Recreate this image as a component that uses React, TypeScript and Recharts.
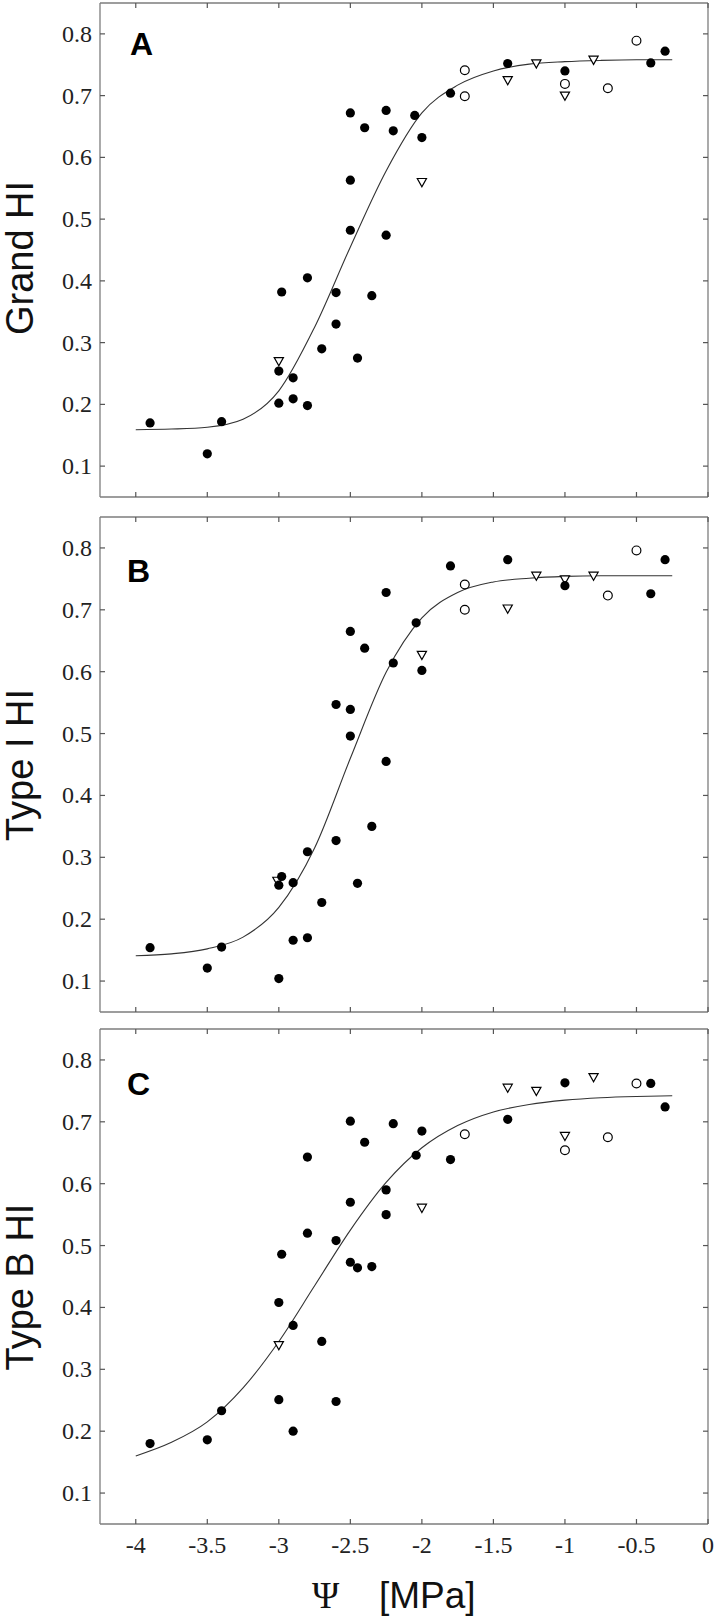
import React from 'react';
import { ComposedChart, Scatter, Line, XAxis, YAxis } from 'recharts';

// axes
const xTicks = [-4, -3.5, -3, -2.5, -2, -1.5, -1, -0.5, 0];
const yTicks = [0.1, 0.2, 0.3, 0.4, 0.5, 0.6, 0.7, 0.8];

// fitted curves, every 0.25 MPa
const curveX = [-4, -3.75, -3.5, -3.25, -3, -2.75, -2.5, -2.25, -2, -1.75, -1.5, -1.25, -1, -0.75, -0.5, -0.25];
const curveA = [0.159, 0.16, 0.163, 0.176, 0.222, 0.325, 0.455, 0.578, 0.672, 0.717, 0.74, 0.751, 0.755, 0.757, 0.758, 0.758];
const curveB = [0.141, 0.144, 0.152, 0.171, 0.219, 0.315, 0.46, 0.599, 0.687, 0.728, 0.745, 0.751, 0.754, 0.755, 0.755, 0.755];
const curveC = [0.16, 0.182, 0.215, 0.27, 0.345, 0.435, 0.525, 0.602, 0.658, 0.694, 0.716, 0.728, 0.735, 0.739, 0.741, 0.742];

// A: Grand HI
const filledA = [
  [-3.9, 0.17], [-3.5, 0.12], [-3.4, 0.172], [-3.0, 0.254], [-3.0, 0.202], [-2.98, 0.382],
  [-2.9, 0.243], [-2.9, 0.209], [-2.8, 0.198], [-2.8, 0.405], [-2.7, 0.29], [-2.6, 0.381],
  [-2.6, 0.33], [-2.5, 0.672], [-2.5, 0.563], [-2.5, 0.482], [-2.45, 0.275], [-2.4, 0.648],
  [-2.35, 0.376], [-2.25, 0.676], [-2.25, 0.474], [-2.2, 0.643], [-2.05, 0.668], [-2.0, 0.632],
  [-1.8, 0.704], [-1.4, 0.752], [-1.0, 0.74], [-0.4, 0.753], [-0.3, 0.772],
];
const circlesA = [[-1.7, 0.741], [-1.7, 0.699], [-1.0, 0.719], [-0.7, 0.712], [-0.5, 0.789]];
const trianglesA = [[-3.0, 0.27], [-2.0, 0.56], [-1.4, 0.725], [-1.2, 0.752], [-1.0, 0.7], [-0.8, 0.758]];

// B: Type I HI
const filledB = [
  [-3.9, 0.154], [-3.5, 0.121], [-3.4, 0.155], [-3.0, 0.104], [-3.0, 0.255], [-2.98, 0.269],
  [-2.9, 0.259], [-2.9, 0.166], [-2.8, 0.17], [-2.8, 0.309], [-2.7, 0.227], [-2.6, 0.547],
  [-2.6, 0.327], [-2.5, 0.665], [-2.5, 0.539], [-2.5, 0.496], [-2.45, 0.258], [-2.4, 0.638],
  [-2.35, 0.35], [-2.25, 0.728], [-2.25, 0.455], [-2.2, 0.614], [-2.04, 0.679], [-2.0, 0.602],
  [-1.8, 0.771], [-1.4, 0.781], [-1.0, 0.739], [-0.4, 0.726], [-0.3, 0.781],
];
const circlesB = [[-1.7, 0.741], [-1.7, 0.7], [-0.7, 0.723], [-0.5, 0.796]];
const trianglesB = [[-3.01, 0.262], [-2.0, 0.627], [-1.4, 0.702], [-1.2, 0.755], [-1.0, 0.749], [-0.8, 0.755]];

// C: Type B HI
const filledC = [
  [-3.9, 0.18], [-3.5, 0.186], [-3.4, 0.233], [-3.0, 0.251], [-3.0, 0.408], [-2.98, 0.486],
  [-2.9, 0.371], [-2.9, 0.2], [-2.8, 0.643], [-2.8, 0.52], [-2.7, 0.345], [-2.6, 0.508],
  [-2.6, 0.248], [-2.5, 0.701], [-2.5, 0.57], [-2.5, 0.473], [-2.45, 0.464], [-2.4, 0.667],
  [-2.35, 0.466], [-2.25, 0.59], [-2.25, 0.55], [-2.2, 0.697], [-2.04, 0.646], [-2.0, 0.685],
  [-1.8, 0.639], [-1.4, 0.704], [-1.0, 0.763], [-0.4, 0.762], [-0.3, 0.724],
];
const circlesC = [[-1.7, 0.68], [-1.0, 0.654], [-0.7, 0.675], [-0.5, 0.762]];
const trianglesC = [[-3.0, 0.339], [-2.0, 0.561], [-1.4, 0.755], [-1.2, 0.75], [-1.0, 0.677], [-0.8, 0.772]];

const FRAME = '#7d7d7d';
const TICK = '#555';
const TICK_LEN = 5;
const SERIF = '"Liberation Serif", "Times New Roman", serif';
const SANS = '"Liberation Sans", Arial, Helvetica, sans-serif';

const toPoints = (pairs: number[][]) => pairs.map(([x, y]) => ({ x, y }));
const toCurve = (ys: number[]) => curveX.map((x, i) => ({ x, y: ys[i] }));

const tickText = { fontFamily: SERIF, fontSize: 24, fill: '#222' };

function BottomTick({ x, y, payload, showLabel }: any) {
  return (
    <g>
      <line x1={x} y1={y} x2={x} y2={y - TICK_LEN} stroke={TICK} strokeWidth={1.2} />
      {showLabel && (
        <text x={x} y={y + 28.5} textAnchor="middle" style={tickText}>
          {String(payload.value)}
        </text>
      )}
    </g>
  );
}

function TopTick({ x, y }: any) {
  return <line x1={x} y1={y} x2={x} y2={y + TICK_LEN} stroke={TICK} strokeWidth={1.2} />;
}

function LeftTick({ x, y, payload }: any) {
  return (
    <g>
      <line x1={x} y1={y} x2={x + TICK_LEN} y2={y} stroke={TICK} strokeWidth={1.2} />
      <text x={x - 8} y={y + 8} textAnchor="end" style={tickText}>
        {String(payload.value)}
      </text>
    </g>
  );
}

function RightTick({ x, y }: any) {
  return <line x1={x} y1={y} x2={x - TICK_LEN} y2={y} stroke={TICK} strokeWidth={1.2} />;
}

const Dot = ({ cx, cy }: any) => <circle cx={cx} cy={cy} r={4.6} fill="#000" />;
const Ring = ({ cx, cy }: any) => <circle cx={cx} cy={cy} r={4.4} fill="#fff" stroke="#000" strokeWidth={1.2} />;
const Tri = ({ cx, cy }: any) => (
  <polygon
    points={`${cx - 4.6},${cy - 3.6} ${cx + 4.6},${cy - 3.6} ${cx},${cy + 4.6}`}
    fill="#fff"
    stroke="#000"
    strokeWidth={1.2}
  />
);

interface PanelProps {
  plotTop: number;
  plotHeight: number;
  bottomSpace: number;
  showXLabels: boolean;
  curve: number[];
  filled: number[][];
  circles: number[][];
  triangles: number[][];
}

function Panel({ plotTop, plotHeight, bottomSpace, showXLabels, curve, filled, circles, triangles }: PanelProps) {
  const pad = 10;
  // every axis takes 1px, so margins are one less than the wanted plot offsets
  return (
    <div style={{ position: 'absolute', left: 0, top: plotTop - pad }}>
      <ComposedChart
        width={716}
        height={pad + plotHeight + bottomSpace}
        data={toCurve(curve)}
        margin={{ top: pad - 1, right: 7, bottom: bottomSpace - 1, left: 99 }}
      >
        <XAxis
          dataKey="x"
          type="number"
          domain={[-4.25, 0]}
          ticks={xTicks}
          interval={0}
          allowDataOverflow
          height={1}
          tickSize={0}
          tickMargin={0}
          tickLine={false}
          axisLine={{ stroke: FRAME, strokeWidth: 1.3 }}
          tick={(p: any) => <BottomTick {...p} showLabel={showXLabels} />}
        />
        <XAxis
          xAxisId="top"
          orientation="top"
          dataKey="x"
          type="number"
          domain={[-4.25, 0]}
          ticks={xTicks}
          interval={0}
          allowDataOverflow
          height={1}
          tickSize={0}
          tickMargin={0}
          tickLine={false}
          axisLine={{ stroke: FRAME, strokeWidth: 1.3 }}
          tick={(p: any) => <TopTick {...p} />}
        />
        <YAxis
          type="number"
          domain={[0.05, 0.85]}
          ticks={yTicks}
          interval={0}
          allowDataOverflow
          width={1}
          tickSize={0}
          tickMargin={0}
          tickLine={false}
          axisLine={{ stroke: FRAME, strokeWidth: 1.3 }}
          tick={(p: any) => <LeftTick {...p} />}
        />
        <YAxis
          yAxisId="right"
          orientation="right"
          type="number"
          domain={[0.05, 0.85]}
          ticks={yTicks}
          interval={0}
          allowDataOverflow
          width={1}
          tickSize={0}
          tickMargin={0}
          tickLine={false}
          axisLine={{ stroke: FRAME, strokeWidth: 1.3 }}
          tick={(p: any) => <RightTick {...p} />}
        />
        <Line
          dataKey="y"
          type="monotone"
          stroke="#333"
          strokeWidth={1.1}
          dot={false}
          activeDot={false}
          isAnimationActive={false}
        />
        <Scatter data={toPoints(triangles)} dataKey="y" shape={Tri} isAnimationActive={false} />
        <Scatter data={toPoints(circles)} dataKey="y" shape={Ring} isAnimationActive={false} />
        <Scatter data={toPoints(filled)} dataKey="y" shape={Dot} isAnimationActive={false} />
      </ComposedChart>
    </div>
  );
}

function YTitle({ text, centerY }: { text: string; centerY: number }) {
  return (
    <div
      style={{
        position: 'absolute',
        left: 20,
        top: centerY,
        transform: 'translate(-50%, -50%) rotate(-90deg)',
        fontFamily: SANS,
        fontSize: 38,
        lineHeight: 1,
        whiteSpace: 'nowrap',
        color: '#111',
      }}
    >
      {text}
    </div>
  );
}

function Letter({ text, left, top }: { text: string; left: number; top: number }) {
  return (
    <div
      style={{
        position: 'absolute',
        left,
        top,
        fontFamily: SANS,
        fontWeight: 'bold',
        fontSize: 32,
        lineHeight: 1,
        color: '#000',
      }}
    >
      {text}
    </div>
  );
}

export default function App() {
  return (
    <div style={{ position: 'absolute', left: 0, top: 0, width: 716, height: 1621, background: '#fff', overflow: 'hidden' }}>
      <Panel plotTop={3} plotHeight={494} bottomSpace={10} showXLabels={false}
        curve={curveA} filled={filledA} circles={circlesA} triangles={trianglesA} />
      <Panel plotTop={517} plotHeight={495} bottomSpace={10} showXLabels={false}
        curve={curveB} filled={filledB} circles={circlesB} triangles={trianglesB} />
      <Panel plotTop={1029} plotHeight={495} bottomSpace={97} showXLabels
        curve={curveC} filled={filledC} circles={circlesC} triangles={trianglesC} />

      <YTitle text="Grand HI" centerY={258} />
      <YTitle text="Type I HI" centerY={765} />
      <YTitle text="Type B HI" centerY={1287} />

      <Letter text="A" left={130} top={28} />
      <Letter text="B" left={127} top={555} />
      <Letter text="C" left={127} top={1068} />

      <div style={{ position: 'absolute', left: 312, top: 1577, fontFamily: SERIF, fontSize: 37, lineHeight: 1, color: '#111' }}>
        Ψ
      </div>
      <div style={{ position: 'absolute', left: 379, top: 1577, fontFamily: SANS, fontSize: 37, lineHeight: 1, color: '#111' }}>
        [MPa]
      </div>
    </div>
  );
}
